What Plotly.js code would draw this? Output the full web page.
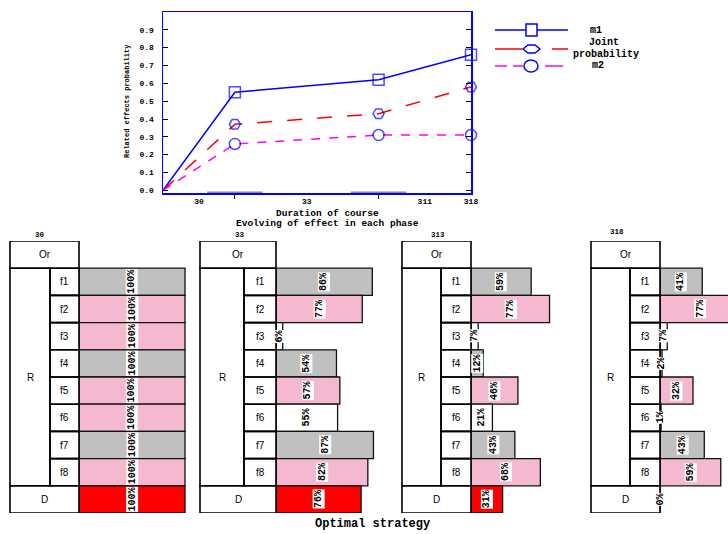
<!DOCTYPE html>
<html>
<head>
<meta charset="utf-8">
<script src="https://cdn.plot.ly/plotly-3.0.1.min.js"></script>
<style>html,body{margin:0;padding:0;background:#fff;}#chart{width:728px;height:534px;}</style>
</head>
<body>
<div id="chart"></div>
<script>
// ---------- data ----------
const duration = [0, 7, 21, 30];
const m1 = [0, 0.55, 0.62, 0.76];
const jointProb = [0, 0.37, 0.43, 0.58];
const m2 = [0, 0.26, 0.31, 0.31];
const phaseTicks = ['30', '33', '311', '318'];
const panelTitles = ['30', '33', '313', '318'];
const seriesNames = ['m1', 'Joint probability', 'm2'];
const rowLabels = ['f1', 'f2', 'f3', 'f4', 'f5', 'f6', 'f7', 'f8', 'D'];
const groupLabel = 'R';
const headerLabel = 'Or';
const phase1 = [100, 100, 100, 100, 100, 100, 100, 100, 100];
const phase2 = [86, 77, 6, 54, 57, 55, 87, 82, 76];
const phase3 = [59, 77, 7, 12, 46, 21, 43, 68, 31];
const phase4 = [41, 77, 7, 2, 32, 1, 43, 59, 0];
const yTitle = 'Related effects probability';
const xTitle1 = 'Duration of course';
const xTitle2 = 'Evolving of effect in each phase';
const bottomTitle = 'Optimal strategy';

// ---------- styles ----------
const GRAY = '#c0c0c0', PINK = '#f4b9d1', WHITE = '#ffffff', RED = '#ff0000';
const panelColors = [
  [GRAY, PINK, PINK, GRAY, PINK, PINK, GRAY, PINK, RED],
  [GRAY, PINK, WHITE, GRAY, PINK, WHITE, GRAY, PINK, RED],
  [GRAY, PINK, WHITE, GRAY, PINK, WHITE, GRAY, PINK, RED],
  [GRAY, PINK, WHITE, GRAY, PINK, WHITE, GRAY, PINK, RED]
];
const MONO = '"Liberation Mono", "DejaVu Sans Mono", monospace';
const SANS = '"Liberation Sans", Arial, sans-serif';
const W = 728, H = 534;
const px = x => x / W, py = y => 1 - y / H;

const panelGeom = [
  {left: 10,  fcol: 50,  bar: 79,  scale: 1.06, tx: 40,  ty: 235},
  {left: 200, fcol: 244, bar: 276, scale: 1.12, tx: 240, ty: 235},
  {left: 402, fcol: 441, bar: 471, scale: 1.02, tx: 438, ty: 235},
  {left: 591, fcol: 630, bar: 660, scale: 1.03, tx: 617, ty: 232}
];
const tableTop = 241, tableBottom = 513;
const panelValues = [phase1, phase2, phase3, phase4];

const traces = [];
const shapes = [];
const annotations = [];

// ---------- top line chart ----------
const markerSizes = duration.map((d, i) => i === 0 ? 0 : 11);
traces.push({
  x: duration, y: m1, name: seriesNames[0], type: 'scatter', mode: 'lines+markers',
  line: {color: '#0000ff', width: 1.5},
  marker: {symbol: 'square-open', size: markerSizes, color: '#0000ff', line: {width: 1.5}},
  cliponaxis: false, xaxis: 'x', yaxis: 'y'
});
traces.push({
  x: duration, y: jointProb, name: seriesNames[1], type: 'scatter', mode: 'lines+markers',
  line: {color: '#ff0000', width: 1.5, dash: 'longdash'},
  marker: {symbol: 'hexagon2-open', size: markerSizes, color: '#0000ff', line: {width: 1.5}},
  cliponaxis: false, xaxis: 'x', yaxis: 'y'
});
traces.push({
  x: duration, y: m2, name: seriesNames[2], type: 'scatter', mode: 'lines+markers',
  line: {color: '#ff00ff', width: 1.5, dash: 'dash'},
  marker: {symbol: 'circle-open', size: markerSizes, color: '#0000ff', line: {width: 1.5}},
  cliponaxis: false, xaxis: 'x', yaxis: 'y'
});

const tickPos = duration.slice(1).map((d, i) => (d + duration[i]) / 2).concat([duration[duration.length - 1]]);
const innerTicks = duration.slice(1, duration.length - 1);
const yTicks = [0, 0.1, 0.2, 0.3, 0.4, 0.5, 0.6, 0.7, 0.8, 0.9];

// gray segments on x axis
innerTicks.forEach(t => {
  shapes.push({type: 'line', xref: 'x', yref: 'y', x0: t - 2.7, x1: t + 2.7, y0: -0.015, y1: -0.015,
    line: {color: '#8c8c8c', width: 3}});
});

// axis titles
annotations.push({text: yTitle, x: px(127), y: py(101), xref: 'paper', yref: 'paper', showarrow: false,
  textangle: -90, font: {family: MONO, size: 7, weight: 'bold', color: '#000'}});
annotations.push({text: xTitle1, x: px(327), y: py(213.5), xref: 'paper', yref: 'paper', showarrow: false,
  font: {family: MONO, size: 9.5, weight: 'bold', color: '#000'}});
annotations.push({text: xTitle2, x: px(327), y: py(223), xref: 'paper', yref: 'paper', showarrow: false,
  font: {family: MONO, size: 9.5, weight: 'bold', color: '#000'}});
annotations.push({text: bottomTitle, x: px(373), y: py(524), xref: 'paper', yref: 'paper', showarrow: false,
  font: {family: MONO, size: 12, weight: 'bold', color: '#000'}});

// custom legend
shapes.push({type: 'line', xref: 'paper', yref: 'paper', x0: px(495), x1: px(568), y0: py(30), y1: py(30), line: {color: '#0000ff', width: 1.5}});
shapes.push({type: 'rect', xref: 'paper', yref: 'paper', x0: px(526), x1: px(537), y0: py(24), y1: py(36), fillcolor: '#fff', line: {color: '#0000ff', width: 1.5}});
shapes.push({type: 'line', xref: 'paper', yref: 'paper', x0: px(495), x1: px(522), y0: py(49), y1: py(49), line: {color: '#ff0000', width: 1.5}});
shapes.push({type: 'line', xref: 'paper', yref: 'paper', x0: px(552), x1: px(568), y0: py(49), y1: py(49), line: {color: '#ff0000', width: 1.5}});
shapes.push({type: 'path', xref: 'paper', yref: 'paper',
  path: `M ${px(523)} ${py(49)} L ${px(528)} ${py(45)} L ${px(535)} ${py(45)} L ${px(540)} ${py(49)} L ${px(535)} ${py(53)} L ${px(528)} ${py(53)} Z`,
  fillcolor: '#fff', line: {color: '#0000ff', width: 1.5}});
shapes.push({type: 'line', xref: 'paper', yref: 'paper', x0: px(495), x1: px(507), y0: py(66), y1: py(66), line: {color: '#ff00ff', width: 1.5}});
shapes.push({type: 'line', xref: 'paper', yref: 'paper', x0: px(513), x1: px(523), y0: py(66), y1: py(66), line: {color: '#ff00ff', width: 1.5}});
shapes.push({type: 'line', xref: 'paper', yref: 'paper', x0: px(545), x1: px(563), y0: py(66), y1: py(66), line: {color: '#ff00ff', width: 1.5}});
shapes.push({type: 'circle', xref: 'paper', yref: 'paper', x0: px(524), x1: px(538), y0: py(60), y1: py(72), fillcolor: '#fff', line: {color: '#0000ff', width: 1.5}});
const legendFont = {family: MONO, size: 10, weight: 'bold', color: '#000'};
annotations.push({text: seriesNames[0], x: px(596), y: py(30), xref: 'paper', yref: 'paper', showarrow: false, font: legendFont});
annotations.push({text: seriesNames[1].split(' ')[0], x: px(604), y: py(43), xref: 'paper', yref: 'paper', showarrow: false, font: legendFont});
annotations.push({text: seriesNames[1].split(' ')[1], x: px(606), y: py(54), xref: 'paper', yref: 'paper', showarrow: false, font: legendFont});
annotations.push({text: seriesNames[2], x: px(598), y: py(66), xref: 'paper', yref: 'paper', showarrow: false, font: legendFont});

const layout = {
  width: W, height: H,
  margin: {l: 0, r: 0, t: 0, b: 0, pad: 0},
  paper_bgcolor: '#fff', plot_bgcolor: 'rgba(0,0,0,0)',
  showlegend: false,
  xaxis: {
    domain: [px(163), px(471)], anchor: 'y', range: [0, 30],
    tickmode: 'array', tickvals: tickPos, ticktext: phaseTicks, ticks: '',
    ticklabelstandoff: 0,
    showline: true, linecolor: '#0000ff', linewidth: 1.5, mirror: true,
    showgrid: false, zeroline: false,
    tickfont: {family: MONO, size: 8, weight: 'bold', color: '#000'},
    minor: {tickmode: 'array', tickvals: innerTicks, ticks: 'outside', ticklen: 4, tickcolor: '#000', tickwidth: 1, showgrid: false}
  },
  yaxis: {
    domain: [py(193), py(12)], anchor: 'x', range: [-0.015, 1.0],
    tickmode: 'array', tickvals: yTicks, ticktext: yTicks.map(v => v.toFixed(1)),
    ticks: 'inside', ticklen: 5, tickcolor: '#000', tickwidth: 1,
    ticklabelstandoff: 6,
    showline: true, linecolor: '#0000ff', linewidth: 1.5, mirror: 'ticks',
    showgrid: false, zeroline: false,
    tickfont: {family: MONO, size: 8, weight: 'bold', color: '#000'}
  },
  shapes: shapes,
  annotations: annotations
};

// ---------- lower strategy panels ----------
const rowIdx = rowLabels.map((r, i) => i + 1);
panelGeom.forEach((g, k) => {
  const xa = 'xaxis' + (k + 2), ya = 'yaxis' + (k + 2);
  const xr = 'x' + (k + 2), yr = 'y' + (k + 2);
  const right = Math.min(g.bar + 125, W);
  layout[xa] = {domain: [px(g.bar), px(right)], range: [0, (right - g.bar) / g.scale], anchor: yr, visible: false, fixedrange: true};
  layout[ya] = {domain: [py(tableBottom), py(tableTop)], range: [rowLabels.length + 0.5, -0.5], anchor: xr, visible: false, fixedrange: true};
  const vals = panelValues[k];
  traces.push({
    type: 'bar', orientation: 'h', x: vals, y: rowIdx, width: 1,
    marker: {color: panelColors[k], line: {color: '#111', width: 1.3}},
    xaxis: xr, yaxis: yr, hoverinfo: 'none'
  });
  vals.forEach((v, i) => {
    annotations.push({text: v + '%', x: v / 2, y: rowIdx[i], xref: xr, yref: yr, showarrow: false,
      textangle: -90, bgcolor: '#fff', borderpad: 0,
      font: {family: MONO, size: 10, weight: 'bold', color: '#000'}});
  });
  const boxLine = {color: '#000', width: 1.6};
  shapes.push({type: 'rect', xref: 'paper', yref: yr, x0: px(g.left), x1: px(g.bar), y0: -0.5, y1: 0.5, line: boxLine});
  shapes.push({type: 'rect', xref: 'paper', yref: yr, x0: px(g.left), x1: px(g.fcol), y0: 0.5, y1: rowLabels.length - 0.5, line: boxLine});
  rowLabels.forEach((r, i) => {
    const isLast = i === rowLabels.length - 1;
    const x0 = isLast ? g.left : g.fcol;
    shapes.push({type: 'rect', xref: 'paper', yref: yr, x0: px(x0), x1: px(g.bar), y0: rowIdx[i] - 0.5, y1: rowIdx[i] + 0.5, line: boxLine});
    annotations.push({text: r, x: px((x0 + g.bar) / 2), y: rowIdx[i], xref: 'paper', yref: yr, showarrow: false,
      font: {family: SANS, size: 10, color: '#000'}});
  });
  annotations.push({text: headerLabel, x: px((g.left + g.bar) / 2), y: 0, xref: 'paper', yref: yr, showarrow: false,
    font: {family: SANS, size: 10, color: '#000'}});
  annotations.push({text: groupLabel, x: px((g.left + g.fcol) / 2), y: rowLabels.length / 2, xref: 'paper', yref: yr, showarrow: false,
    font: {family: SANS, size: 10, color: '#000'}});
  annotations.push({text: panelTitles[k], x: px(g.tx), y: py(g.ty), xref: 'paper', yref: 'paper', showarrow: false,
    font: {family: MONO, size: 7.5, weight: 'bold', color: '#000'}});
});

annotations.forEach(a => { a.xanchor = 'center'; a.yanchor = 'middle'; });

Plotly.newPlot('chart', traces, layout, {displayModeBar: false, staticPlot: true});
</script>
</body>
</html>
